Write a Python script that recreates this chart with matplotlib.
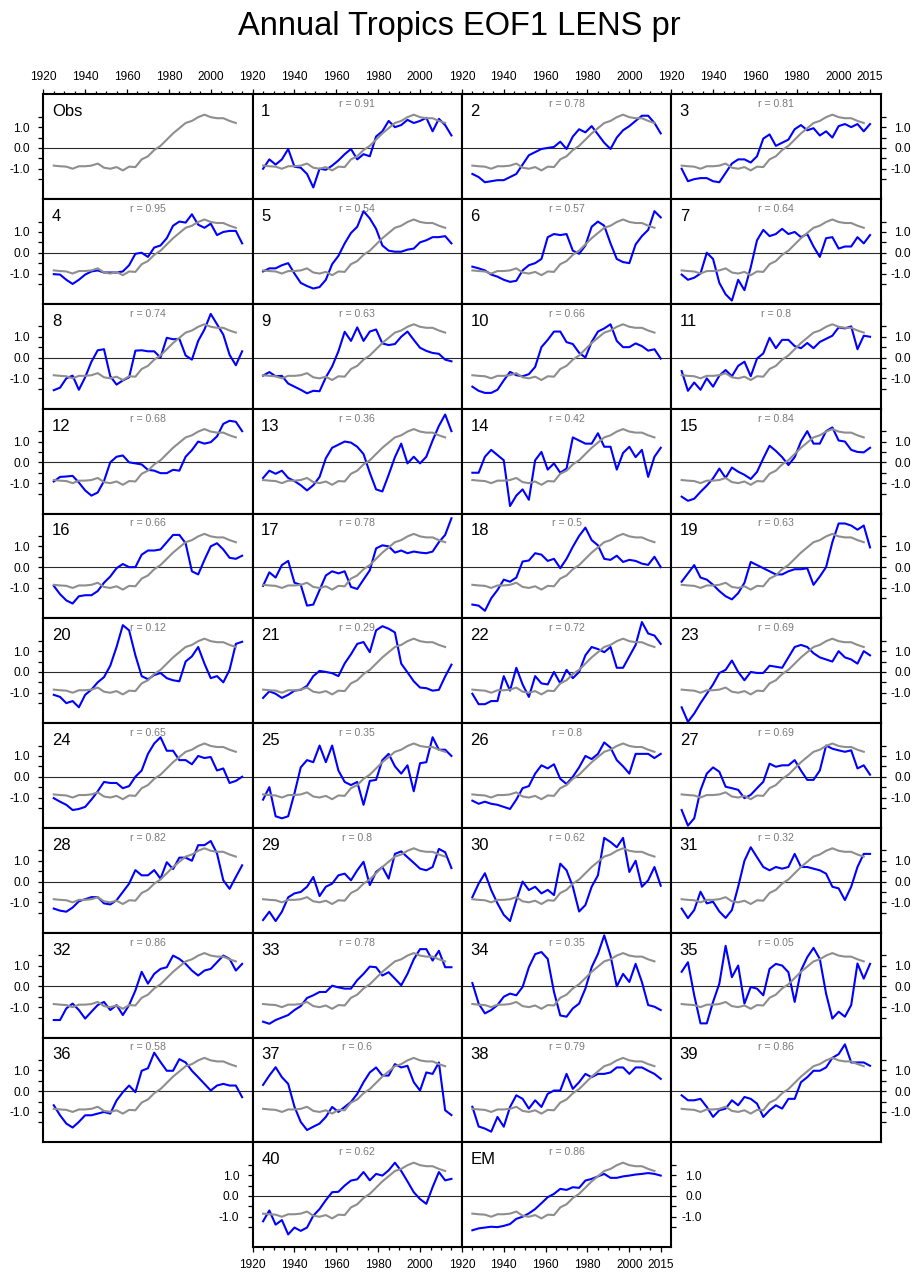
import matplotlib
matplotlib.use("Agg")
import matplotlib.pyplot as plt

plt.rcParams['font.family'] = ['Liberation Sans', 'DejaVu Sans']

# ---------------- data ----------------
YEARS = list(range(1925, 2016, 3))       # 31 sample years for members
OBS_YEARS = list(range(1925, 2013, 3))   # 30 sample years for observations

OBS = [-0.85, -0.88, -0.9, -1.0, -0.88, -0.88, -0.85, -0.75, -0.95, -1.0, -0.92, -1.08, -0.9, -0.92,
       -0.55, -0.4, -0.1, 0.1, 0.4, 0.7, 0.95, 1.2, 1.3, 1.48, 1.6, 1.48, 1.43, 1.43, 1.3, 1.2]

M01 = [-1.0, -0.55, -0.8, -0.55, -0.05, -0.9, -0.95, -1.25, -1.9, -1.0, -1.05, -0.85, -0.6, -0.3, -0.05, -0.55,
       -0.3, -0.4, 0.55, 0.8, 1.3, 1.0, 1.1, 1.35, 1.2, 1.3, 1.45, 0.8, 1.4, 1.1, 0.6]
M02 = [-1.25, -1.4, -1.65, -1.6, -1.55, -1.55, -1.4, -1.25, -0.8, -0.35, -0.2, -0.05, 0.0, 0.05, 0.3, -0.05,
       0.55, 0.9, 0.75, 1.05, 0.65, 0.25, -0.05, 0.5, 0.85, 1.05, 1.3, 1.55, 1.55, 1.2, 0.7]
M03 = [-1.0, -1.6, -1.5, -1.45, -1.45, -1.6, -1.65, -1.2, -0.75, -0.55, -0.55, -0.7, -0.4, 0.45, 0.65, 0.1,
       0.25, 0.4, 0.9, 1.1, 0.85, 0.95, 0.6, 0.8, 0.5, 1.05, 1.15, 1.0, 1.15, 0.8, 1.15]
M04 = [-1.03, -1.05, -1.3, -1.5, -1.3, -1.05, -0.9, -0.85, -0.95, -0.95, -0.95, -0.9, -0.6, -0.05, 0.0, -0.2,
       0.25, 0.35, 0.7, 1.3, 1.5, 1.45, 1.85, 1.35, 1.2, 1.4, 0.85, 1.0, 1.05, 1.05, 0.45]
M05 = [-0.9, -0.75, -0.75, -0.6, -0.5, -1.0, -1.45, -1.6, -1.72, -1.65, -1.3, -0.55, -0.15, 0.45, 0.95, 1.25,
       2.0, 1.65, 1.15, 0.35, 0.1, 0.05, 0.05, 0.15, 0.2, 0.5, 0.6, 0.75, 0.75, 0.8, 0.45]
M06 = [-0.67, -0.75, -0.85, -1.05, -1.15, -1.3, -1.4, -1.35, -0.85, -0.6, -0.5, -0.3, 0.75, 0.9, 0.85, 0.9,
       0.1, -0.05, 0.35, 1.25, 1.5, 1.3, 0.45, -0.3, -0.45, -0.5, 0.4, 0.8, 1.1, 2.0, 1.7]
M07 = [-1.05, -1.3, -1.2, -1.0, 0.0, -0.3, -1.45, -2.0, -2.3, -1.3, -1.8, -0.7, 0.6, 1.1, 0.8, 0.9,
       1.15, 0.9, 1.0, 0.75, 0.9, 0.3, -0.2, 0.7, 0.75, 0.2, 0.3, 0.3, 0.75, 0.45, 0.85]
M08 = [-1.57, -1.45, -1.0, -0.87, -1.55, -0.95, -0.2, 0.35, 0.4, -0.9, -1.3, -1.1, -0.95, 0.33, 0.35, 0.3,
       0.3, 0.0, 0.95, 0.88, 0.9, 0.1, -0.1, 0.8, 1.35, 2.1, 1.6, 1.1, 0.13, -0.37, 0.3]
M09 = [-0.87, -0.7, -0.9, -0.88, -1.25, -1.4, -1.55, -1.72, -1.6, -1.62, -0.95, -0.43, 0.3, 1.24, 0.8, 1.45,
       0.8, 1.25, 1.35, 0.68, 0.6, 0.65, 1.0, 1.25, 0.85, 0.47, 0.32, 0.22, 0.18, -0.1, -0.18]
M10 = [-1.4, -1.6, -1.7, -1.7, -1.55, -1.1, -0.69, -0.85, -0.9, -0.8, -0.45, 0.5, 0.85, 1.25, 1.25, 0.74,
       0.65, 0.23, 0.0, 0.75, 1.25, 1.4, 1.6, 0.8, 0.5, 0.5, 0.68, 0.55, 0.33, 0.4, -0.05]
M11 = [-0.65, -1.6, -1.2, -1.55, -1.0, -1.4, -0.87, -0.6, -0.9, -0.4, -0.2, -0.9, -0.05, 0.2, 0.95, 0.45,
       0.85, 0.85, 0.55, 0.45, 0.7, 0.45, 0.75, 0.9, 1.05, 1.45, 1.4, 1.5, 0.4, 1.05, 1.0]
M12 = [-0.92, -0.7, -0.68, -0.65, -0.97, -1.35, -1.6, -1.45, -0.9, 0.0, 0.27, 0.33, 0.0, -0.05, -0.1, -0.36,
       -0.4, -0.52, -0.52, -0.36, -0.4, 0.27, 0.59, 1.0, 0.9, 0.97, 1.25, 1.85, 2.0, 1.95, 1.5]
M13 = [-0.75, -0.4, -0.55, -0.4, -0.75, -0.9, -1.1, -1.35, -1.1, -0.7, 0.2, 0.7, 0.85, 1.0, 0.95, 0.75,
       0.4, -0.5, -1.3, -1.4, -0.6, 0.25, 0.9, -0.05, 0.27, -0.05, 0.27, 1.05, 1.75, 2.3, 1.5]
M14 = [-0.5, -0.5, 0.27, 0.6, 0.35, 0.1, -2.1, -1.6, -1.3, -1.8, 0.1, 0.5, -0.35, -0.05, -0.5, -0.3,
       1.2, 1.05, 0.9, 0.9, 1.4, 0.75, 0.75, -0.35, 0.45, 0.75, 0.25, 0.6, -0.7, 0.27, 0.7]
M15 = [-1.65, -1.85, -1.75, -1.42, -1.12, -0.77, -0.3, -0.75, -0.25, -0.45, -0.6, -0.8, -0.46, 0.19, 0.8, 0.55,
       0.25, -0.13, 0.25, 1.0, 1.5, 0.9, 0.9, 1.5, 1.68, 1.05, 1.0, 0.6, 0.5, 0.48, 0.7]
M16 = [-0.9, -1.3, -1.6, -1.75, -1.4, -1.35, -1.35, -1.15, -0.75, -0.45, -0.05, 0.15, 0.0, 0.0, 0.6, 0.8,
       0.8, 0.85, 1.2, 1.55, 1.55, 1.15, -0.2, -0.35, 0.35, 1.0, 1.15, 0.85, 0.45, 0.4, 0.55]
M17 = [-0.9, -0.25, -0.5, 0.1, 0.3, -0.75, -0.85, -1.85, -1.8, -1.1, -0.4, -0.2, -0.3, -0.2, -0.95, -1.05,
       -0.6, -0.15, 0.9, 1.05, 1.0, 0.7, 0.8, 0.67, 0.75, 0.7, 0.67, 0.75, 1.2, 1.55, 2.35]
M18 = [-1.8, -1.85, -2.1, -1.5, -1.1, -0.6, -0.7, -0.5, 0.27, 0.32, 0.67, 0.6, 0.3, 0.4, -0.05, 0.4,
       0.98, 1.5, 1.9, 1.3, 1.05, 0.4, 0.35, 0.55, 0.25, 0.35, 0.3, 0.17, 0.11, 0.5, 0.0]
M19 = [-0.7, -0.3, 0.1, -0.5, -0.6, -0.85, -1.15, -1.4, -1.55, -1.25, -0.75, 0.25, 0.1, -0.05, -0.2, -0.35,
       -0.35, -0.2, -0.1, -0.1, -0.05, -0.85, -0.45, 0.0, 1.2, 2.1, 2.1, 2.0, 1.8, 2.0, 0.95]
M20 = [-1.1, -1.2, -1.5, -1.4, -1.7, -1.1, -0.85, -0.5, -0.25, 0.3, 1.2, 2.25, 2.0, 0.8, -0.2, -0.35,
       -0.15, -0.05, -0.3, -0.4, -0.45, 0.5, 0.75, 1.2, 0.4, -0.3, -0.2, -0.5, 0.1, 1.35, 1.45]
M21 = [-1.25, -0.93, -1.05, -1.25, -1.1, -0.9, -0.86, -0.67, -0.2, 0.05, 0.0, -0.06, -0.2, 0.41, 0.85, 1.35,
       1.44, 0.95, 2.0, 2.2, 2.08, 1.9, 0.4, -0.02, -0.45, -0.75, -0.78, -0.9, -0.86, -0.22, 0.35]
M22 = [-1.05, -1.55, -1.55, -1.4, -1.4, -0.2, -0.9, 0.2, -0.6, -1.2, -0.2, -0.55, -0.6, 0.0, -0.55, 0.1,
       -0.3, 0.0, 0.8, 1.2, 1.1, 0.95, 1.2, 0.2, 0.2, 0.75, 1.3, 2.4, 1.85, 1.75, 1.35]
M23 = [-1.7, -2.4, -2.0, -1.5, -1.05, -0.6, -0.05, 0.1, 0.55, 0.0, -0.4, 0.0, -0.05, -0.05, 0.3, 0.25,
       0.2, 0.7, 1.2, 1.3, 1.2, 0.9, 0.7, 0.6, 0.5, 1.0, 0.7, 0.6, 0.4, 1.0, 0.8]
M24 = [-1.03, -1.2, -1.35, -1.6, -1.55, -1.45, -1.1, -0.7, -0.25, -0.3, -0.3, -0.55, -0.45, 0.0, 0.3, 1.1,
       1.6, 1.9, 1.25, 1.25, 0.8, 0.8, 0.6, 1.0, 0.9, 0.95, 0.3, 0.4, -0.3, -0.2, 0.0]
M25 = [-1.1, -0.5, -1.9, -2.0, -1.9, -0.8, 0.45, 0.8, 0.7, 1.5, 0.7, 1.5, 0.3, -0.25, -0.4, -0.25,
       -1.35, -0.2, -0.15, 0.8, 1.1, 0.5, 0.15, 0.55, -0.7, 0.65, 0.7, 1.9, 1.3, 1.3, 1.0]
M26 = [-1.15, -1.3, -1.2, -1.3, -1.35, -1.45, -1.55, -1.1, -0.55, -0.45, 0.15, 0.55, 0.4, 0.6, -0.1, -0.35,
       0.0, 0.45, 1.0, 0.85, 1.1, 1.65, 1.4, 0.8, 0.5, 0.15, 1.1, 1.1, 1.1, 0.9, 1.1]
M27 = [-1.6, -2.35, -2.0, -0.65, 0.15, 0.45, 0.24, -0.48, -0.55, -0.63, -1.03, -0.87, -0.55, -0.24, 0.63, 0.48,
       0.55, 0.55, 0.8, 0.3, -0.15, -0.15, 0.3, 1.5, 1.35, 1.27, 1.2, 1.27, 0.4, 0.55, 0.1]
M28 = [-1.3, -1.4, -1.45, -1.25, -0.95, -0.85, -0.75, -0.75, -1.05, -1.1, -0.9, -0.5, -0.1, 0.55, 0.3, 0.3,
       0.55, 0.14, 0.93, 0.6, 1.15, 1.15, 1.0, 1.75, 1.75, 1.95, 1.35, 0.06, -0.35, 0.22, 0.78]
M29 = [-1.85, -1.45, -1.9, -1.45, -0.76, -0.57, -0.5, -0.25, 0.22, -0.7, -0.25, -0.1, 0.3, 0.38, 0.06, 0.54,
       0.95, -0.17, 0.46, 0.7, 0.14, 1.33, 1.45, 1.17, 0.9, 0.62, 0.54, 0.7, 1.57, 1.41, 0.65]
M30 = [-0.75, -0.1, 0.4, -0.41, -1.05, -1.6, -1.9, -0.9, 0.0, -0.41, -0.25, -0.57, -0.4, -0.65, 0.86, 0.54,
       -0.25, -1.44, -1.13, -0.25, 0.3, 2.1, 1.9, 1.65, 2.1, 0.46, 1.0, -0.25, 0.06, 0.7, -0.2]
M31 = [-1.3, -1.76, -1.37, -0.49, -1.05, -0.97, -1.44, -1.75, -1.37, -0.25, 1.0, 1.65, 1.17, 0.7, 0.54, 0.7,
       0.62, 0.7, 1.33, 0.7, 0.7, 0.62, 0.54, 0.38, -0.25, -0.33, -0.89, -0.25, 0.7, 1.33, 1.33]
M32 = [-1.62, -1.62, -1.06, -0.83, -1.14, -1.55, -1.22, -0.9, -0.75, -1.14, -0.9, -1.38, -0.9, -0.2, 0.7, 0.13,
       0.6, 0.84, 0.92, 1.48, 1.32, 1.08, 0.76, 0.52, 0.76, 0.84, 1.16, 1.48, 1.32, 0.76, 1.08]
M33 = [-1.7, -1.8, -1.62, -1.5, -1.38, -1.14, -0.95, -0.56, -0.43, -0.27, -0.27, 0.03, -0.05, -0.11, -0.11, 0.3,
       0.6, 0.95, 0.92, 0.52, 0.68, 0.37, 0.05, 0.6, 1.3, 1.79, 1.79, 1.24, 1.71, 0.92, 0.92]
M34 = [0.16, -0.83, -1.3, -1.14, -0.9, -0.5, -0.35, -0.43, -0.03, 0.92, 1.55, 1.65, 1.32, -0.27, -1.4, -1.46,
       -1.06, -0.83, -0.11, 0.92, 1.56, 2.45, 1.48, 0.0, 0.6, 0.21, 1.08, 0.21, -0.9, -0.98, -1.14]
M35 = [0.7, 1.16, -0.43, -1.78, -1.78, -0.75, 0.13, 1.95, 0.44, 1.0, -0.83, -0.03, -0.11, -0.43, 0.84, 1.08,
       1.0, 0.68, -0.75, 0.76, 1.4, 1.85, 1.32, -0.35, -1.55, -1.22, -1.46, -0.9, 1.1, 0.37, 1.08]
M36 = [-0.68, -1.16, -1.56, -1.75, -1.48, -1.16, -1.16, -1.08, -1.0, -1.08, -0.45, -0.05, 0.27, -0.05, 0.98, 1.1,
       1.85, 1.4, 0.98, 0.98, 1.54, 1.38, 0.98, 0.67, 0.35, 0.03, 0.27, 0.35, 0.27, 0.27, -0.29]
M37 = [0.3, 0.75, 1.15, 0.67, 0.35, -0.75, -1.48, -1.87, -1.71, -1.56, -1.24, -0.76, -1.0, -0.76, -0.52, -0.13,
       0.43, 0.9, 1.14, 0.75, 0.75, 1.3, 1.14, 1.22, 0.43, 0.03, 0.9, 0.83, 1.38, -0.92, -1.15]
M38 = [-0.75, -1.7, -1.8, -1.95, -1.24, -1.71, -0.76, -0.2, -0.37, -0.84, -0.44, -0.76, -0.13, 0.03, 0.03, 0.83,
       0.11, 0.43, 0.83, 0.67, 0.83, 0.83, 0.9, 1.14, 1.14, 0.83, 1.14, 1.14, 0.98, 0.83, 0.59]
M39 = [-0.2, -0.44, -0.44, -0.37, -0.76, -1.24, -0.92, -0.84, -0.44, -0.68, -0.28, -0.37, -0.6, -1.24, -0.92, -0.68,
       -0.84, -0.37, -0.37, 0.43, 0.67, 0.98, 0.98, 1.14, 1.6, 1.78, 2.25, 1.38, 1.38, 1.38, 1.22]
M40 = [-1.22, -0.7, -1.38, -1.16, -1.85, -1.52, -1.68, -1.52, -0.95, -0.63, -0.2, 0.18, 0.2, 0.5, 0.74, 0.8,
       1.15, 0.75, 1.06, 0.98, 1.23, 1.6, 1.2, 0.7, 0.18, -0.15, -0.38, 0.42, 1.15, 0.75, 0.82]
EM = [-1.65, -1.56, -1.52, -1.48, -1.5, -1.44, -1.35, -1.1, -1.0, -0.84, -0.63, -0.35, -0.06, 0.1, 0.34, 0.29,
      0.42, 0.39, 0.74, 0.82, 0.94, 1.06, 0.87, 0.87, 0.94, 0.98, 1.03, 1.06, 1.1, 1.06, 0.98]

R_VALUES = [0.91, 0.78, 0.81, 0.95, 0.54, 0.57, 0.64, 0.74, 0.63, 0.66, 0.8, 0.68, 0.36, 0.42, 0.84,
            0.66, 0.78, 0.5, 0.63, 0.12, 0.29, 0.72, 0.69, 0.65, 0.35, 0.8, 0.69, 0.82, 0.8, 0.62,
            0.32, 0.86, 0.78, 0.35, 0.05, 0.58, 0.6, 0.79, 0.86, 0.62, 0.86]
PANEL_LABELS = [str(i) for i in range(1, 41)] + ["EM"]
TITLE = "Annual Tropics EOF1 LENS pr"
X_MAJOR = [1920, 1940, 1960, 1980, 2000]
X_MAJOR_LAST = [1920, 1940, 1960, 1980, 2000, 2015]
Y_MAJOR = [-1.0, 0.0, 1.0]
Y_LABELS = ["-1.0", "0.0", "1.0"]

SERIES = [M01, M02, M03, M04, M05, M06, M07, M08, M09, M10, M11, M12, M13, M14, M15, M16, M17, M18, M19, M20,
          M21, M22, M23, M24, M25, M26, M27, M28, M29, M30, M31, M32, M33, M34, M35, M36, M37, M38, M39, M40, EM]

# ---------------- layout ----------------
W, H = 919, 1281
fig = plt.figure(figsize=(W / 100, H / 100), dpi=100)
LEFT0, PW, TOP0, PH = 43.3, 209.3, 94.3, 104.8
BLUE = '#0000ff'
GRAY = '#8e8e8e'
TICK_FS = 8.6
LINE_W = 1.5


def make_axes(col, row):
    x0 = LEFT0 + col * PW
    y0 = TOP0 + row * PH
    return fig.add_axes([x0 / W, 1 - (y0 + PH) / H, PW / W, PH / H])


def style(ax, top=False, bottom=False, left=False, right=False, last_col=False):
    ax.set_xlim(1920, 2020)
    ax.set_ylim(-2.46, 2.58)
    ax.set_xticks(X_MAJOR_LAST if last_col else X_MAJOR)
    ax.set_xticks(list(range(1925, 2020, 5)), minor=True)
    ax.set_yticks(Y_MAJOR)
    ax.set_yticklabels(Y_LABELS)
    ax.set_yticks([-1.5, -0.5, 0.5, 1.5], minor=True)
    for s in ax.spines.values():
        s.set_linewidth(1.5)
    ax.tick_params(axis='x', which='both', bottom=bottom, top=top, labelbottom=bottom, labeltop=top,
                   direction='out', width=0.9, labelsize=TICK_FS)
    ax.tick_params(axis='x', which='major', length=3.6, pad=(4.4 if top else 5.2))
    ax.tick_params(axis='x', which='minor', length=2.0)
    ax.tick_params(axis='y', which='both', left=left, right=right, labelleft=left, labelright=right,
                   direction='out', width=0.9, length=3.4, labelsize=TICK_FS, pad=(18.5 if right else 6.3))
    if right:
        for t in ax.yaxis.get_major_ticks():
            t.label2.set_horizontalalignment('right')
    ax.axhline(0.0, color='#2a2a2a', lw=0.8, zorder=1)


def panel_text(ax, label, rtxt=None):
    ax.text(0.041, 1 - 21.9 / PH, label, transform=ax.transAxes, fontsize=12, ha='left', va='baseline')
    if rtxt is not None:
        ax.text(0.5, 1 - 5.0 / PH, rtxt, transform=ax.transAxes, fontsize=7.6, color='#7a7a7a',
                ha='center', va='top')


# Obs panel
ax = make_axes(0, 0)
style(ax, top=True, left=True)
ax.plot(OBS_YEARS, OBS, color=GRAY, lw=LINE_W, zorder=3)
panel_text(ax, "Obs")

# member panels + ensemble mean
for k, (vals, lab, r) in enumerate(zip(SERIES, PANEL_LABELS, R_VALUES), start=1):
    if k <= 39:
        col, row = k % 4, k // 4
    else:
        col, row = (1, 10) if k == 40 else (2, 10)
    ax = make_axes(col, row)
    last_col = (col == 3) or (k == 41)
    style(ax,
          top=(row == 0),
          bottom=(row == 10),
          left=(col == 0 and row <= 9) or k == 40,
          right=(col == 3 and row <= 9) or k == 41,
          last_col=last_col)
    ax.plot(YEARS, vals, color=BLUE, lw=LINE_W, zorder=2)
    ax.plot(OBS_YEARS, OBS, color=GRAY, lw=LINE_W, zorder=3)
    panel_text(ax, lab, f"r = {r:g}")

fig.text(0.5, 1 - 35 / H, TITLE, ha='center', va='baseline', fontsize=23.5)

fig.savefig("out.png", dpi=100)
